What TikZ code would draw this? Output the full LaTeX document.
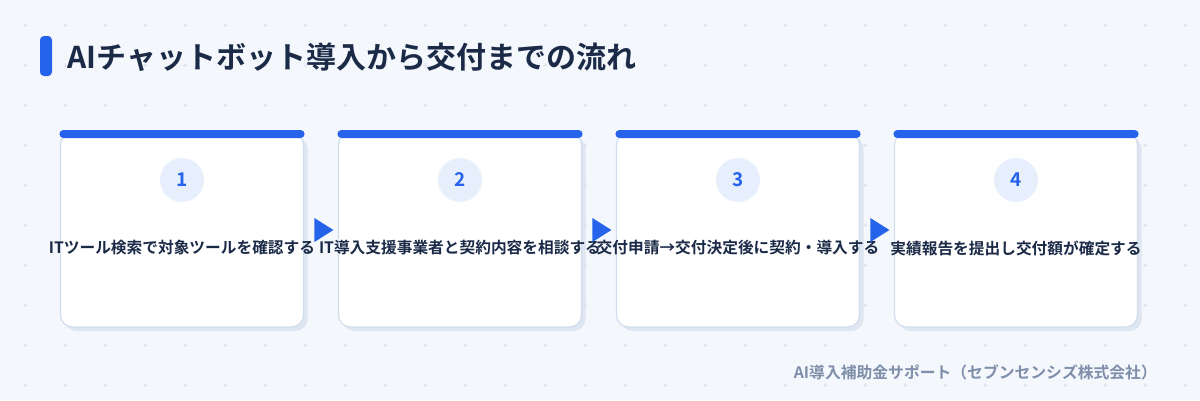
\documentclass[tikz,border=0pt]{standalone}
\usepackage{fontspec}
\setmainfont{Noto Sans CJK JP}[BoldFont={Noto Sans CJK JP Bold}]
\usetikzlibrary{calc,shapes.geometric,shadows}

\definecolor{pagebg}{HTML}{F4F7FC}
\definecolor{gridmark}{HTML}{DCE3EF}
\definecolor{stepblue}{HTML}{2563EB}
\definecolor{stepink}{HTML}{1B2A47}
\definecolor{cardline}{HTML}{D2DEED}
\definecolor{cardshade}{HTML}{DEE6F2}
\definecolor{badgefill}{HTML}{E7EFFC}
\definecolor{footink}{HTML}{7F8FAA}

\tikzset{
  stepcard/.style={draw=cardline, line width=1.2pt, fill=white, rounded corners=12pt,
    minimum width=243pt, minimum height=194pt, inner sep=0pt,
    drop shadow={shadow xshift=4pt, shadow yshift=-4pt, fill=cardshade, opacity=1}},
  stepbar/.style={fill=stepblue, rounded corners=4pt},
  badge/.style={circle, fill=badgefill, minimum size=44pt, inner sep=0pt,
    text=stepblue, font=\fontsize{19}{22}\selectfont\bfseries},
  steptext/.style={inner sep=0pt, text=stepink, font=\fontsize{15.7}{18}\selectfont\bfseries},
  stepnext/.style={isosceles triangle, isosceles triangle stretches, fill=stepblue,
    minimum height=19pt, minimum width=24pt, inner sep=0pt}
}

\begin{document}
\begin{tikzpicture}[x=1pt,y=1pt,yscale=-1,xscale=1]
\useasboundingbox (0,0) rectangle (1200,400);
% page
\fill[pagebg] (0,0) rectangle (1200,400);
\foreach \i in {0,...,29}
  \foreach \j in {0,...,9}
    \draw[gridmark, line width=0.8pt] (25+40*\i,23+40*\j) -- (25+40*\i,27+40*\j)
      (23+40*\i,25+40*\j) -- (27+40*\i,25+40*\j);

% title
\fill[stepblue, rounded corners=4pt] (40,36) rectangle (52,76);
\node (title) [anchor=west, inner sep=0pt, text=stepink, font=\fontsize{30}{34}\selectfont\bfseries]
  at (67,57) {AIチャットボット導入から交付までの流れ};

% cards
\node (card1) [stepcard] at (182,230) {};
\node (card2) [stepcard] at (460,230) {};
\node (card3) [stepcard] at (738,230) {};
\node (card4) [stepcard] at (1016,230) {};
\foreach \c in {1,...,4}
  \fill[stepbar] ([xshift=-0.5pt]card\c.north west |- 0,130) rectangle ([xshift=0.5pt]card\c.north east |- 0,138);

% badges
\node (num1) [badge] at (182,180) {1};
\node (num2) [badge] at (460,180) {2};
\node (num3) [badge] at (738,180) {3};
\node (num4) [badge] at (1016,180) {4};

% step texts
\node (text1) [steptext] at (182,248) {ITツール検索で対象ツールを確認する};
\node (text2) [steptext] at (460,248) {IT導入支援事業者と契約内容を相談する};
\node (text3) [steptext] at (738,248) {交付申請→交付決定後に契約・導入する};
\node (text4) [steptext] at (1016,248) {実績報告を提出し交付額が確定する};

% arrows between cards
\node (next12) [stepnext] at ($(card1.east)!0.5!(card2.west)$) {};
\node (next23) [stepnext] at ($(card2.east)!0.5!(card3.west)$) {};
\node (next34) [stepnext] at ($(card3.east)!0.5!(card4.west)$) {};

% footer
\node (foot) [anchor=east, inner sep=0pt, text=footink, font=\fontsize{15.8}{18}\selectfont\bfseries]
  at (1157,372) {AI導入補助金サポート（セブンセンシズ株式会社）};
\end{tikzpicture}
\end{document}
